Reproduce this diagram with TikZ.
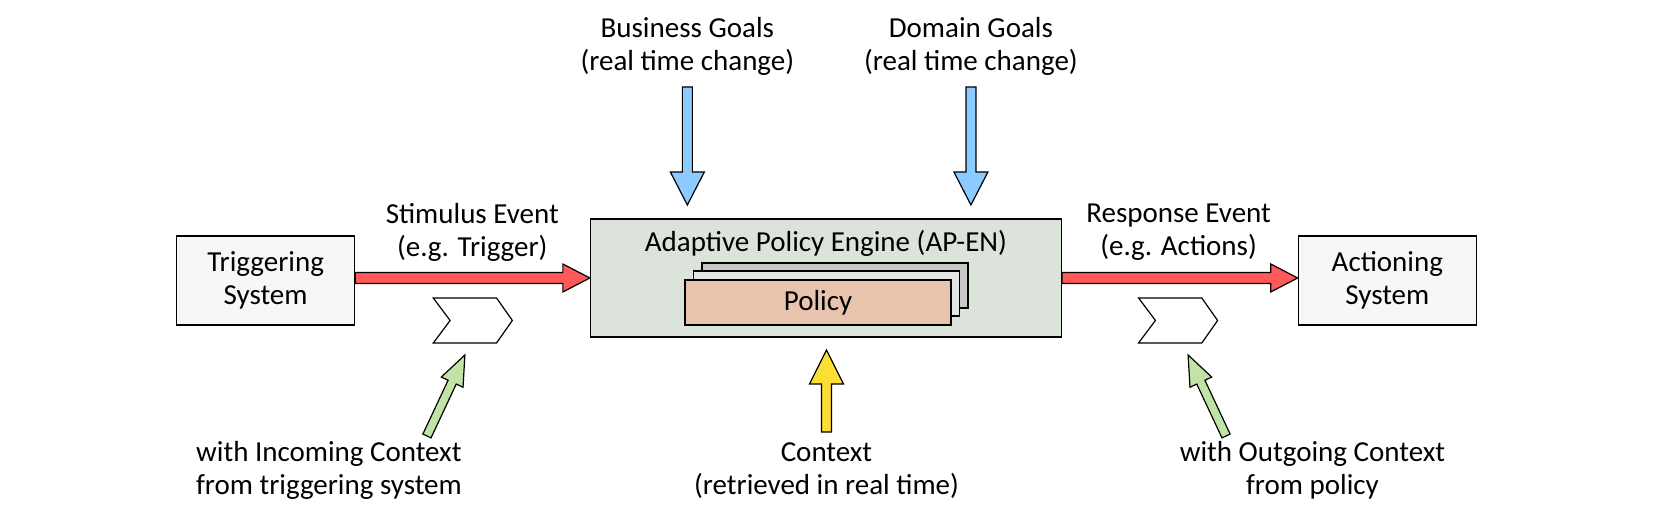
\documentclass[tikz,border=0pt]{standalone}
\usepackage{fontspec}
\setmainfont{Carlito}
\usetikzlibrary{calc}
\newcommand\fatarrow[6]{%
\draw[#1] let \p1=($(#3)-(#2)$), \n1={atan2(\y1,\x1)}, \n2={veclen(\x1,\y1)} in
 [shift={(#2)}, rotate=\n1] (0pt,-#4pt) -- ({(\n2-#6)*1pt},-#4pt) -- ({(\n2-#6)*1pt},-#5pt) -- ({\n2*1pt},0pt) -- ({(\n2-#6)*1pt},#5pt) -- ({(\n2-#6)*1pt},#4pt) -- (0pt,#4pt) -- cycle;}
\begin{document}
\begin{tikzpicture}[x=1.0543pt,y=-1pt,
  txt/.style={align=center,font=\fontsize{29}{33}\selectfont,inner sep=0pt},
  box/.style={draw=black,line width=1.3pt,inner sep=0pt},
  red/.style={fill=red!65!white,draw=black,line width=1.2pt},
  blue/.style={fill=blue!45!cyan!45!white,draw=black,line width=1.2pt},
  yel/.style={fill=yellow!75!orange!80!white,draw=black,line width=1.2pt},
  grn/.style={fill=green!40!olive!35!white,draw=black,line width=1.2pt}]
\useasboundingbox (0,0) rectangle (1568,517);
\definecolor{eng}{HTML}{DCE3DA}
\definecolor{pol}{HTML}{E8C4AE}
% boxes
\node[box,fill=black!3,minimum width=178pt,minimum height=89pt] (trig) at (252,280.5) {};
\node[txt] at (252,280) {Triggering\\System};
\node[box,fill=black!3,minimum width=178pt,minimum height=89pt] (act) at (1316,280.5) {};
\node[txt] at (1316,280) {Actioning\\System};
\node[box,fill=eng,minimum width=471pt,minimum height=118pt] (eng) at (783.5,278) {};
\node[txt] (engt) at (783.5,243) {Adaptive Policy Engine (AP-EN)};
\node[box,fill=black!22,minimum width=266pt,minimum height=45pt] (p3) at (792,285.5) {};
\node[box,fill=black!10,minimum width=266pt,minimum height=45pt] (p2) at (784,293.5) {};
\node[box,fill=pol,minimum width=266pt,minimum height=45pt] (p1) at (776,302.5) {};
\node[txt] at (p1) {Policy};
% labels
\node[txt] (bg) at (652,46.5) {Business Goals\\(real time change)};
\node[txt] (dg) at (921,46.5) {Domain Goals\\(real time change)};
\node[txt] (se) at (448,232) {Stimulus Event\\(e.g. Trigger)};
\node[txt] (re) at (1118,232) {Response Event\\(e.g. Actions)};
\node[txt] (ic) at (312,470.5) {with Incoming Context\\from triggering system};
\node[txt] (cx) at (784,470.5) {Context\\(retrieved in real time)};
\node[txt] (oc) at (1245,470.5) {with Outgoing Context\\from policy};
% chevrons
\draw[fill=white,line width=1.2pt] (411,298) -- (471,298) -- (486,320.5) -- (471,343) -- (411,343) -- (427,320.5) -- cycle;
\draw[fill=white,line width=1.2pt] (1080,298) -- (1140,298) -- (1155,320.5) -- (1140,343) -- (1080,343) -- (1096,320.5) -- cycle;
% arrow coordinates
\coordinate (r1a) at (trig.east|-0,278); \coordinate (r1b) at (eng.west|-0,278);
\coordinate (r2a) at (eng.east|-0,278); \coordinate (r2b) at (act.west|-0,278);
\coordinate (b1a) at (652,87); \coordinate (b1b) at (652,205);
\coordinate (b2a) at (921,87); \coordinate (b2b) at (921,205);
\coordinate (ya) at (784,432); \coordinate (yb) at (784,350);
\coordinate (g1a) at (405,436); \coordinate (g1b) at (441,355);
\coordinate (g2a) at (1163,436); \coordinate (g2b) at (1127,355);
\fatarrow{red}{r1a}{r1b}{5.5}{14}{27}
\fatarrow{red}{r2a}{r2b}{5.5}{14}{27}
\fatarrow{blue}{b1a}{b1b}{5}{17}{33}
\fatarrow{blue}{b2a}{b2b}{5}{17}{33}
\fatarrow{yel}{ya}{yb}{5}{17}{34}
\fatarrow{grn}{g1a}{g1b}{4.5}{12}{30}
\fatarrow{grn}{g2a}{g2b}{4.5}{12}{30}
\end{tikzpicture}
\end{document}
